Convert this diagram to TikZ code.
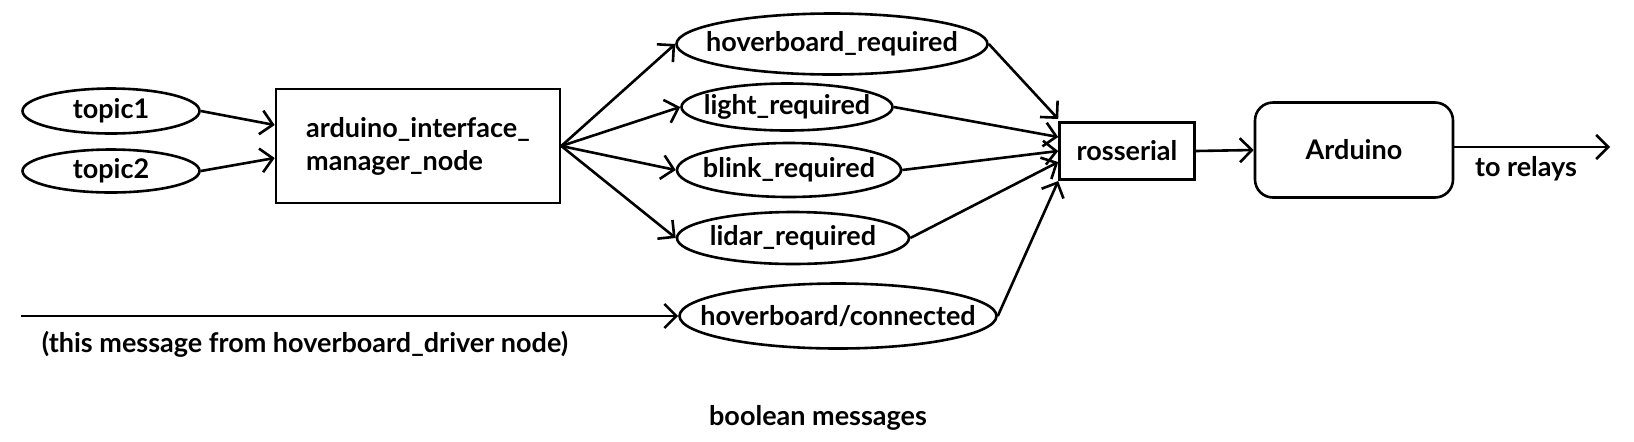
\documentclass[tikz,border=0pt]{standalone}
\usepackage{fontspec}
\setmainfont{Lato}
\usetikzlibrary{shapes,arrows.meta,positioning}

\tikzset{
  topic/.style={ellipse,draw,line width=1.3pt,inner xsep=-1.5em,inner ysep=-0.5em},
  block/.style={rectangle,draw,line width=1.3pt,inner sep=0pt},
  msgarrow/.style={-{Straight Barb[length=6pt,width=12pt]},line width=1.3pt}
}

\begin{document}
\begin{tikzpicture}[x=0.5pt,y=-0.5pt,font=\bfseries\fontsize{13.5}{16.5}\selectfont]
\useasboundingbox (0,0) rectangle (1634,441);

% Input topics
\node[topic,minimum width=88.5pt,minimum height=22.5pt] (topic1) at (111,111) {topic1};
\node[topic,minimum width=88.5pt,minimum height=21.5pt] (topic2) at (111,171) {topic2};

% Manager node
\node[block,minimum width=142pt,minimum height=57pt,align=left] (manager) at (418,146) {arduino\_interface\_\\manager\_node};

% Boolean message topics
\node[topic,minimum width=155.5pt,minimum height=30.5pt] (hoverreq) at (832,44) {hoverboard\_required};
\node[topic,minimum width=105.5pt,minimum height=23.5pt] (lightreq) at (787,107) {light\_required};
\node[topic,minimum width=112pt,minimum height=27pt] (blinkreq) at (789,170) {blink\_required};
\node[topic,minimum width=116pt,minimum height=26pt] (lidarreq) at (793,238) {lidar\_required};
\node[topic,minimum width=158.5pt,minimum height=32.5pt] (hoverconn) at (838,316) {hoverboard/connected};

% Serial bridge and board
\node[block,minimum width=67.5pt,minimum height=28.5pt] (rosserial) at (1127,151) {rosserial};
\node[block,rounded corners=9pt,minimum width=99pt,minimum height=47.5pt] (arduino) at (1354,150) {Arduino};

% Free ends and labels
\coordinate (driver) at (21,316);
\coordinate (relays) at (1610,147);
\node (relaylbl) at (1526,169) {to relays};
\node (driverlbl) at (305,344) {(this message from hoverboard\_driver node)};
\node (boollbl) at (818,418) {boolean messages};

% Arrows
\draw[msgarrow] (topic1.east) -- ([yshift=10.5pt]manager.west);
\draw[msgarrow] (topic2.east) -- ([yshift=-6pt]manager.west);
\draw[msgarrow] (manager.east) -- (hoverreq.west);
\draw[msgarrow] (manager.east) -- (lightreq.west);
\draw[msgarrow] (manager.east) -- (blinkreq.west);
\draw[msgarrow] (manager.east) -- (lidarreq.west);
\draw[msgarrow] (driver) -- (hoverconn.west);
\draw[msgarrow] (hoverreq.east) -- ([yshift=16pt]rosserial.west);
\draw[msgarrow] (lightreq.east) -- ([yshift=7pt]rosserial.west);
\draw[msgarrow] (blinkreq.east) -- (rosserial.west);
\draw[msgarrow] (lidarreq.east) -- ([yshift=-5.5pt]rosserial.west);
\draw[msgarrow] (hoverconn.east) -- ([yshift=-15pt]rosserial.west);
\draw[msgarrow] (rosserial.east) -- (arduino.west);
\draw[msgarrow] (arduino.east |- relays) -- (relays);

\end{tikzpicture}
\end{document}
